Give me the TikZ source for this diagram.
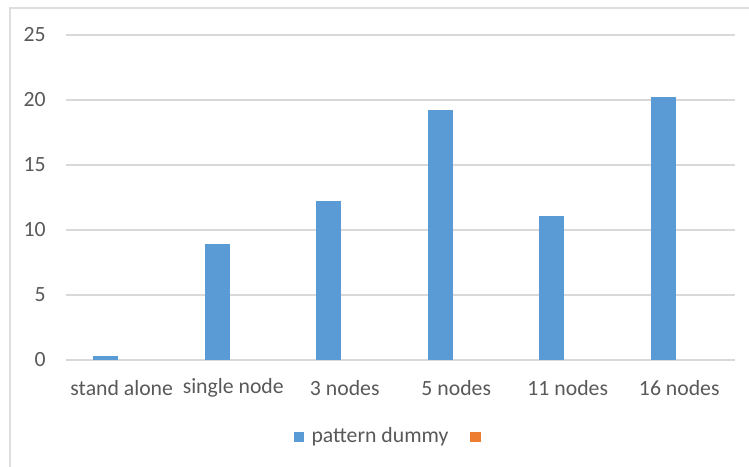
\documentclass[tikz,border=0pt]{standalone}
\usepackage{fontspec}
\setmainfont{Carlito}
\usetikzlibrary{positioning}
\definecolor{BarBlue}{RGB}{91,155,213}
\definecolor{BarOrange}{RGB}{237,125,49}
\definecolor{GridGray}{RGB}{217,217,217}
\definecolor{FrameGray}{RGB}{222,222,222}
\definecolor{LabelGray}{RGB}{89,89,89}
\tikzset{
  gridline/.style={GridGray,line width=1.4pt},
  frame/.style={FrameGray,line width=1.6pt},
  bar/.style={fill=BarBlue},
  ticklabel/.style={text=LabelGray,font=\fontsize{16.3}{19}\selectfont,inner sep=0pt},
  legendkey/.style={minimum size=8pt,inner sep=0pt}
}

\begin{document}
\begin{tikzpicture}[x=0.75pt,y=-0.75pt]
  \useasboundingbox (0,0) rectangle (749,467);
  \fill[white] (0,0) rectangle (749,467);
  % chart frame (left and top edges)
  \draw[frame] (10,467) -- (10,8) -- (749,8);
  % horizontal grid and value labels
  \foreach \v in {0,5,...,25} {
    \draw[gridline] (66,360-13*\v) -- (735,360-13*\v);
    \node[ticklabel,anchor=east] (val\v) at (46,360-13*\v) {\v};
  }
  % bars and category labels
  \foreach \i/\h/\name in {0/0.3/stand alone,1/8.9/single node,2/12.2/3 nodes,
                          3/19.2/5 nodes,4/11.1/11 nodes,5/20.2/16 nodes} {
    \fill[bar] (66+111.5*\i+27,360) rectangle ++(25,-13*\h);
    \node[ticklabel] (cat\i) at (66+111.5*\i+55.75,388) {\name};
  }
  % legend
  \node[legendkey,fill=BarBlue] (keyA) at (299,437) {};
  \node[ticklabel,right=5pt of keyA] (legA) {pattern dummy};
  \node[legendkey,fill=BarOrange,right=16pt of legA] (keyB) {};
\end{tikzpicture}
\end{document}
